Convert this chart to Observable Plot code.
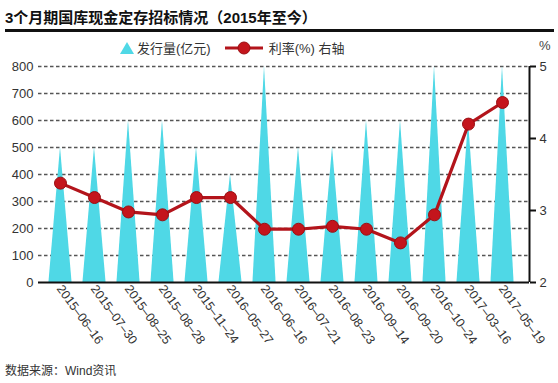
<!DOCTYPE html>
<html><head><meta charset="utf-8">
<script src="https://cdn.jsdelivr.net/npm/d3@7"></script>
<script src="https://cdn.jsdelivr.net/npm/@observablehq/plot@0.6"></script>
<style>
body{margin:0;background:#fff;font-family:"Liberation Sans","Noto Sans CJK SC",sans-serif;}
#wrap{position:relative;width:558px;height:383px;overflow:hidden;background:#fff}
#title{position:absolute;left:5px;top:6px;font-size:15px;font-weight:bold;color:#111;white-space:nowrap}
#hr{position:absolute;left:5px;top:29px;width:549px;height:3px;background:#111}
#legend{position:absolute;left:119px;top:38px;font-size:13px;color:#333;display:flex;align-items:center;white-space:nowrap}
#legend .item{display:flex;align-items:center;margin-right:13px}
#pct{position:absolute;left:539px;top:38px;font-size:13px;color:#444}
#chart{position:absolute;left:0;top:55px}
#foot{position:absolute;left:5px;top:361px;font-size:12px;color:#333;white-space:nowrap}
</style></head>
<body>
<div id="wrap">
  <div id="title">3个月期国库现金定存招标情况（2015年至今）</div>
  <div id="hr"></div>
  <div id="legend">
    <div class="item"><svg width="16" height="14"><polygon points="1,13 8,1 15,13" fill="#4fd8e6"/></svg><span style="margin-left:2px">发行量(亿元)</span></div>
    <div class="item"><svg width="40" height="14"><line x1="1" y1="7" x2="39" y2="7" stroke="#b3141b" stroke-width="3"/><circle cx="20" cy="7" r="6" fill="#c4151c" stroke="#9a0e12" stroke-width="1"/></svg><span style="margin-left:5px">利率(%) 右轴</span></div>
  </div>
  <div id="pct">%</div>
  <div id="chart"></div>
  <div id="foot">数据来源：Wind资讯</div>
</div>
<script>
const dates = ["2015–06–16","2015–07–30","2015–08–25","2015–08–28","2015–11–24","2016–05–27","2016–06–16","2016–07–21","2016–08–23","2016–09–14","2016–09–20","2016–10–24","2017–03–16","2017–05–19"];
const volume = [500,500,600,600,500,400,800,500,500,600,600,800,600,800];
const rate = [3.38,3.18,2.98,2.94,3.18,3.18,2.74,2.74,2.78,2.74,2.55,2.94,4.20,4.50];
const leftTicks = [0,100,200,300,400,500,600,700,800];
const gridTicks = [100,200,300,400,500,600,700,800];
const rightTicks = [2,3,4,5];

const rMin = 2, rMax = 5, vMax = 800;
const toLeft = r => (r - rMin) / (rMax - rMin) * vMax;
const half = 0.34;
const xDomain = [-0.647, 13.794];

const tri = [];
volume.forEach((v, i) => {
  tri.push({x: i - half, y: 0, k: i});
  tri.push({x: i, y: v, k: i});
  tri.push({x: i + half, y: 0, k: i});
});
const line = rate.map((r, i) => ({x: i, y: toLeft(r), r}));

const chart = Plot.plot({
  width: 558,
  height: 300,
  marginTop: 11,
  marginBottom: 73,
  marginLeft: 38,
  marginRight: 29,
  style: {fontFamily: '"Liberation Sans","Noto Sans CJK SC",sans-serif', fontSize: "13px", color: "#333", background: "transparent", overflow: "visible"},
  x: {domain: xDomain, axis: null, label: null},
  y: {domain: [0, vMax], axis: null, label: null},
  marks: [
    Plot.gridY(gridTicks, {stroke: "#555", strokeOpacity: 1, strokeWidth: 1.5, strokeDasharray: "3.5,2.5"}),
    Plot.areaY(tri, {x: "x", y: "y", z: "k", fill: "#4fd8e6", curve: "linear"}),
    Plot.ruleY([0], {stroke: "#111", strokeWidth: 2}),
    Plot.ruleX([xDomain[1]], {y1: 0, y2: vMax, stroke: "#111", strokeWidth: 2}),
    Plot.axisY(leftTicks, {anchor: "left", label: null, tickSize: 0, tickPadding: 5, fontSize: 13, fill: "#333"}),
    Plot.axisY(rightTicks.map(toLeft), {anchor: "right", label: null, tickSize: 6, tickPadding: 4, stroke: "#111", strokeWidth: 2, fontSize: 13, fill: "#333", tickFormat: d => String(Math.round(rMin + d / vMax * (rMax - rMin)))}),
    Plot.axisX(d3.range(dates.length), {anchor: "bottom", label: null, tickSize: 0, tickPadding: 4, dx: -1, tickRotate: 54, fontSize: 12.5, fill: "#333", tickFormat: i => dates[i]}),
    Plot.line(line, {x: "x", y: "y", stroke: "#b3141b", strokeWidth: 3.2}),
    Plot.dot(line, {x: "x", y: "y", r: 6, fill: "#c4151c", stroke: "#9a0e12", strokeWidth: 1})
  ]
});
document.getElementById("chart").appendChild(chart);
</script>
</body></html>
